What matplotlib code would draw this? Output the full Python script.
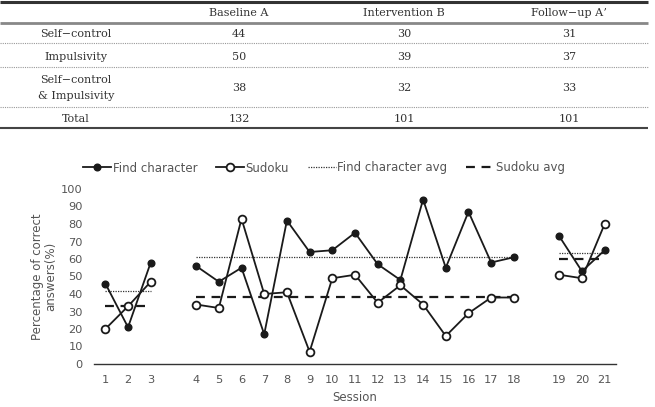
import numpy as np
import matplotlib
matplotlib.use("Agg")
import matplotlib.pyplot as plt

# table data
row_labels = ["Self\u2212control", "Impulsivity", "Self\u2212control\n& Impulsivity", "Total"]
col_labels = ["Baseline A", "Intervention B", "Follow\u2212up A\u02bc"]
baseline_counts = [44, 50, 38, 132]
intervention_counts = [30, 39, 32, 101]
followup_counts = [31, 37, 33, 101]

# chart data (percentage of correct answers per session)
sessions = list(range(1, 22))
phase = [0]*3 + [1]*15 + [2]*3
find_char = [46, 21, 58,
             56, 47, 55, 17, 82, 64, 65, 75, 57, 48, 94, 55, 87, 58, 61,
             73, 53, 65]
sudoku = [20, 33, 47,
          34, 32, 83, 40, 41, 7, 49, 51, 35, 45, 34, 16, 29, 38, 38,
          51, 49, 80]
find_avg = [41.7, 61.4, 63.7]
sudoku_avg = [33.3, 38.1, 60.0]

W, H = 655, 407
fig = plt.figure(figsize=(W/100, H/100), dpi=100)

# ---- table ----
tab = fig.add_axes([0, 1 - 132/H, 1, 132/H])
tab.set_xlim(0, W)
tab.set_ylim(132, 0)
tab.axis("off")
serif = "DejaVu Serif"
tcol = "#333333"
right = 648
tab.plot([0, right], [1.5, 1.5], color="#333333", lw=2.2, solid_capstyle="butt")
tab.plot([0, right], [23, 23], color="#888888", lw=2.0, solid_capstyle="butt")
for yy in [43, 67, 107]:
    tab.plot([0, right], [yy, yy], color="#999999", lw=0.8, ls=(0, (1, 1)))
tab.plot([0, right], [128, 128], color="#444444", lw=1.5, solid_capstyle="butt")

col_x = [76, 239, 404, 569]
row_y = [34, 57, 88, 119]
fs_t = 8
for x, lab in zip(col_x[1:], col_labels):
    tab.text(x, 13, lab, ha="center", va="center", fontsize=fs_t, family=serif, color=tcol)
for i, lab in enumerate(row_labels):
    tab.text(col_x[0], row_y[i], lab, ha="center", va="center", fontsize=fs_t,
             family=serif, color=tcol, linespacing=1.7)
    for x, vals in zip(col_x[1:], [baseline_counts, intervention_counts, followup_counts]):
        tab.text(x, row_y[i], str(vals[i]), ha="center", va="center", fontsize=fs_t,
                 family=serif, color=tcol)

# ---- chart ----
ax = fig.add_axes([94/W, 1 - 364/H, (616-94)/W, (364-189)/H])
pos = np.array(sessions) + np.array(phase)
find_arr = np.array(find_char)
sud_arr = np.array(sudoku)
ph = np.array(phase)
lc = "#1a1a1a"
for p in range(3):
    m = ph == p
    ax.plot(pos[m], find_arr[m], color=lc, lw=1.3, marker="o", ms=4.8,
            mfc=lc, mec=lc, label="Find character" if p == 0 else None)
    ax.plot(pos[m], sud_arr[m], color=lc, lw=1.3, marker="o", ms=5.6,
            mfc="white", mec=lc, mew=1.3, label="Sudoku" if p == 0 else None)
    x0, x1 = pos[m].min(), pos[m].max()
    ax.plot([x0, x1], [find_avg[p]]*2, color="#333333", lw=0.9, ls=(0, (1, 1)),
            label="Find character avg" if p == 0 else None, zorder=1)
    ax.plot([x0, x1], [sudoku_avg[p]]*2, color=lc, lw=1.6, ls=(0, (4, 3)),
            label="Sudoku avg" if p == 0 else None, zorder=1)

ax.set_xlim(0.5, 23.5)
ax.set_ylim(0, 100)
ax.set_yticks(range(0, 101, 10))
ax.set_xticks(pos)
ax.set_xticklabels([str(s) for s in sessions])
for s in ["top", "right", "left"]:
    ax.spines[s].set_visible(False)
ax.spines["bottom"].set_color("#333333")
ax.spines["bottom"].set_linewidth(1.0)
ax.tick_params(length=0, labelsize=8.2, labelcolor="#555555", pad=8)
ax.tick_params(axis="y", pad=8)
ax.set_xlabel("Session", fontsize=8.5, color="#555555", labelpad=4)
ax.set_ylabel("Percentage of correct\nanswers(%)", fontsize=8.5, color="#555555",
              labelpad=3, linespacing=1.0)

fig.legend(loc="center", bbox_to_anchor=(324/W, 1 - 168/H), ncol=4,
           frameon=False, fontsize=8.5, handlelength=2.4, handletextpad=0.1,
           columnspacing=1.6, labelcolor="#555555")

fig.savefig("out.png", dpi=100)
